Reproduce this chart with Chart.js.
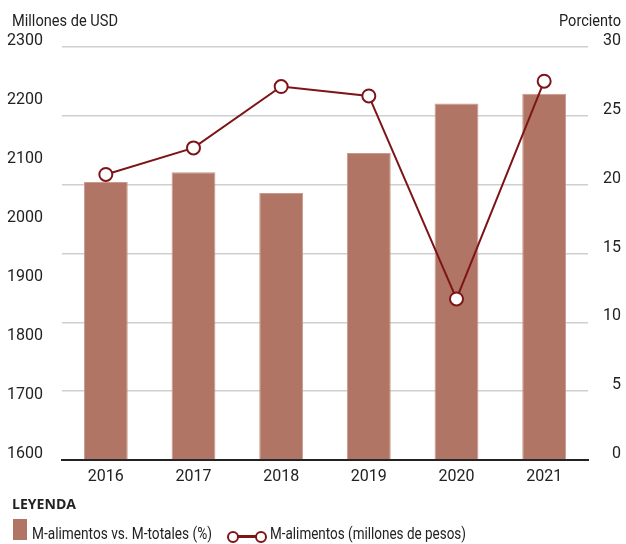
<!DOCTYPE html>
<html>
<head>
<meta charset="utf-8">
<script src="https://cdn.jsdelivr.net/npm/chart.js@4"></script>
<style>
  body { margin: 0; background: #fff; }
  #wrap { position: relative; width: 626px; height: 544px; }
  .lbl { position: absolute; font-family: Roboto, "Liberation Sans", sans-serif; color: #222; white-space: nowrap; line-height: 1; }
  .ttl { font-size: 17px; top: 12px; }
  .ley { font-family: "Open Sans", "DejaVu Sans", sans-serif; font-weight: bold; font-size: 13.5px; left: 12px; top: 498px; }
  .item { font-size: 16px; top: 526px; }
  .swatch { position: absolute; left: 13px; top: 519px; width: 14px; height: 21px; background: #b07565; }
  .dot { position: absolute; width: 8px; height: 8px; border: 2px solid #7d1518; border-radius: 50%; background: #fff; top: 531px; }
  .seg { position: absolute; left: 238px; width: 19px; height: 2.5px; top: 535px; background: #7d1518; }
</style>
</head>
<body>
<div id="wrap">
  <canvas id="chart" width="626" height="544"></canvas>
  <div class="lbl ttl" data-w="106" style="left:12px">Millones de USD</div>
  <div class="lbl ttl" data-w="62" data-right="1" style="left:559px">Porciento</div>
  <div class="lbl ley" data-w="64">LEYENDA</div>
  <div class="swatch"></div>
  <div class="lbl item" data-w="180" style="left:32px">M-alimentos vs. M-totales (%)</div>
  <div class="seg"></div>
  <div class="dot" style="left:227px"></div>
  <div class="dot" style="left:255px"></div>
  <div class="lbl item" data-w="196" style="left:270px">M-alimentos (millones de pesos)</div>
</div>
<script>
// years on the x axis
const years = ["2016", "2017", "2018", "2019", "2020", "2021"];
// bars, right axis (percent)
const shareFood = [20.2, 20.9, 19.4, 22.3, 25.9, 26.6];
// line, left axis (millions)
const importsFood = [2084, 2129, 2233, 2217, 1873, 2242];

const fontFam = 'Roboto, "Liberation Sans", sans-serif';
const darkRed = '#7d1518';

// squeeze html labels to the condensed widths of the original
document.querySelectorAll('.lbl[data-w]').forEach(el => {
    const w = el.getBoundingClientRect().width;
    el.style.transformOrigin = 'left top';
    el.style.transform = `scaleX(${Number(el.dataset.w) / w})`;
});

new Chart("chart", {
    type: 'bar',
    data: {
        labels: years,
        datasets: [{
            type: 'line',
            label: 'M-alimentos (millones de pesos)',
            data: importsFood,
            yAxisID: 'y',
            borderColor: darkRed,
            borderWidth: 2,
            pointRadius: 6.5,
            pointBorderWidth: 2,
            pointBackgroundColor: '#fff',
            pointBorderColor: darkRed,
            tension: 0,
            order: 0
        }, {
            label: 'M-alimentos vs. M-totales (%)',
            data: shareFood,
            yAxisID: 'y1',
            backgroundColor: '#b07565',
            borderColor: '#c9998c',
            borderWidth: 1,
            borderSkipped: 'bottom',
            barPercentage: 0.5,
            categoryPercentage: 1,
            order: 1
        }]
    },
    options: {
        responsive: false,
        animation: false,
        layout: { padding: { top: 47, right: 5, left: 0, bottom: 0 } },
        plugins: { legend: { display: false }, tooltip: { enabled: false } },
        scales: {
            x: {
                grid: { display: false, drawTicks: false },
                border: { display: true, color: '#222', width: 2 },
                ticks: { color: '#222', font: { family: fontFam, size: 16 }, padding: 7 },
                afterFit: s => { s.height = 84; }
            },
            y: {
                position: 'left',
                min: 1600, max: 2300,
                grid: { display: false, drawTicks: false },
                border: { display: false },
                ticks: { stepSize: 100, color: '#222', font: { family: fontFam, size: 16 }, padding: 19, labelOffset: -6, callback: v => String(v) },
                afterFit: s => { s.width = 62; }
            },
            y1: {
                position: 'right',
                min: 0, max: 30,
                grid: { color: '#cfcfcf', lineWidth: 1.5, drawTicks: false },
                border: { display: false },
                ticks: { stepSize: 5, color: '#222', font: { family: fontFam, size: 16 }, crossAlign: 'far', labelOffset: -6, callback: v => String(v) },
                afterFit: s => { s.width = 33; }
            }
        }
    }
});
</script>
</body>
</html>
